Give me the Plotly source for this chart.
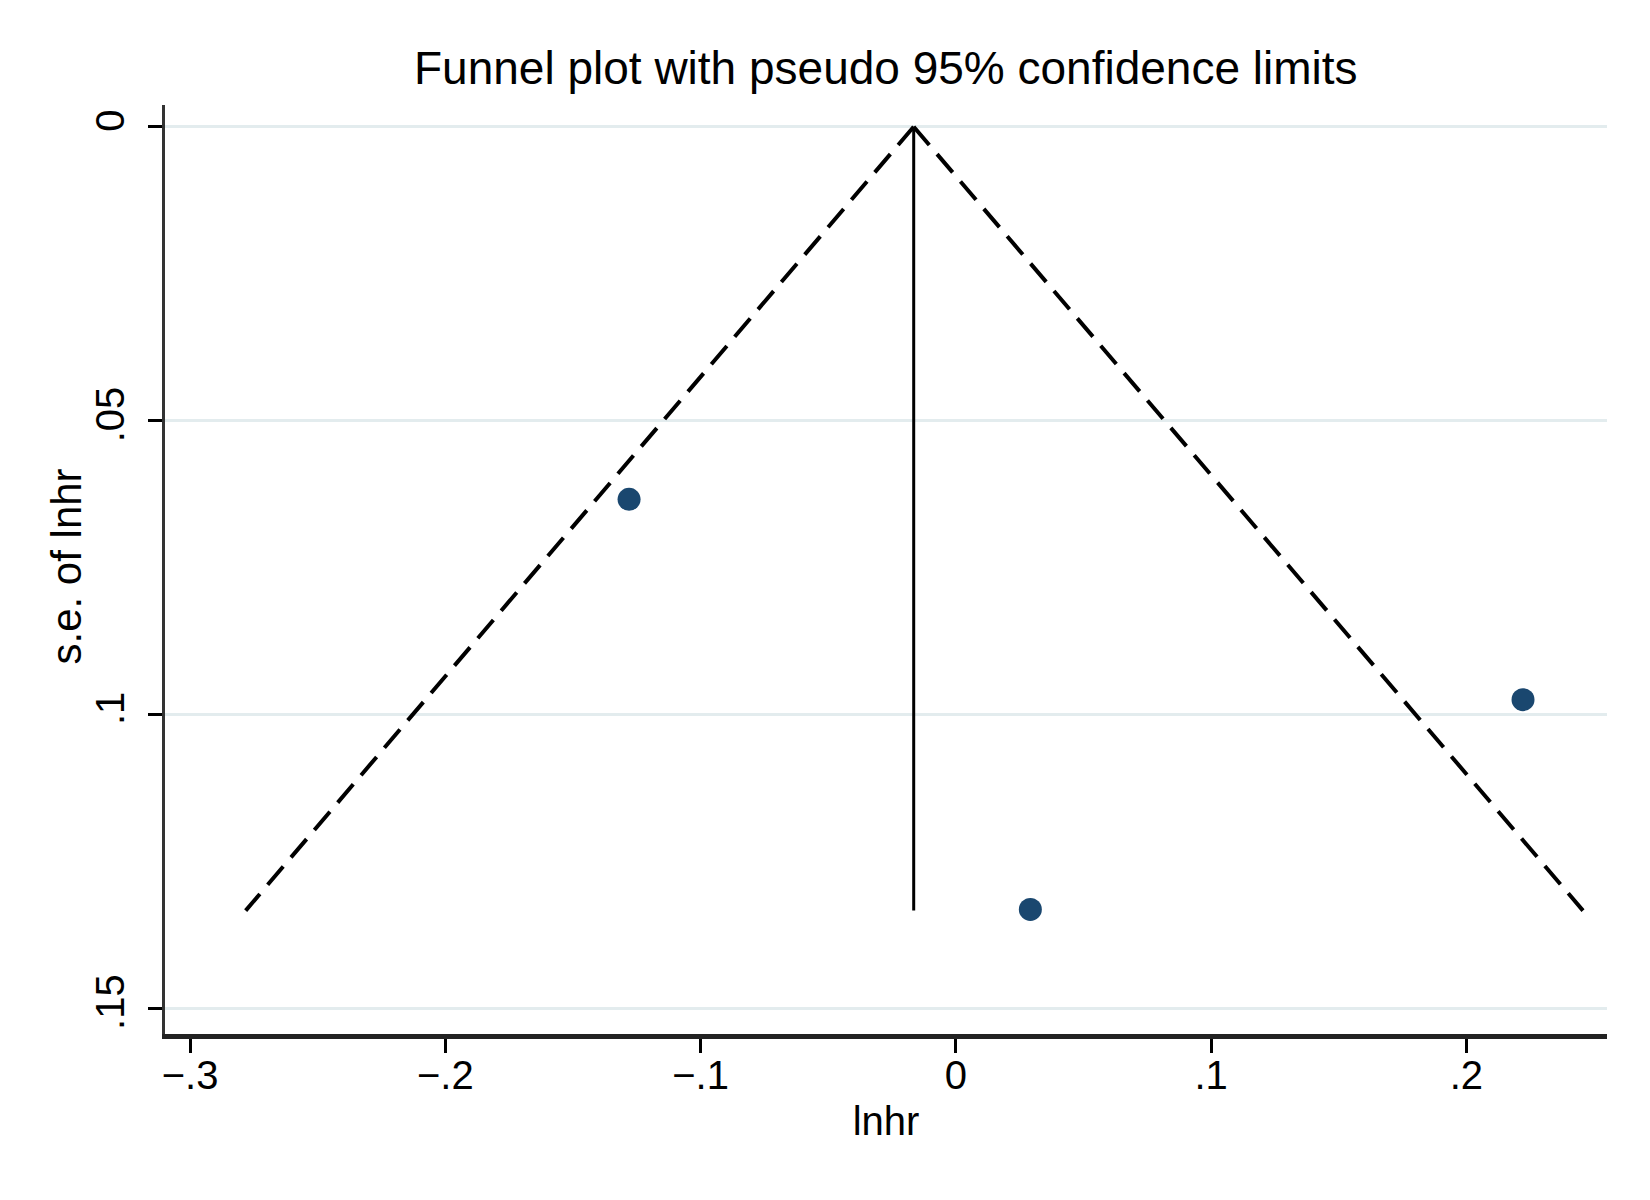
import plotly.graph_objects as go

# study estimates (log hazard ratio and its standard error)
lnhr = [-0.128, 0.0292, 0.2222]
se_lnhr = [0.0634, 0.1332, 0.0975]

# pooled estimate and pseudo 95% limits
pooled = -0.0165
se_max = 0.1334
lower_x = [-0.0165, -0.2782]
upper_x = [-0.0165, 0.2457]
limit_y = [0.0, 0.1334]

x_ticks = [-0.3, -0.2, -0.1, 0, 0.1, 0.2]
x_labels = ["\u2212.3", "\u2212.2", "\u2212.1", "0", ".1", ".2"]
y_ticks = [0, 0.05, 0.1, 0.15]
y_labels = ["0", ".05", ".1", ".15"]

fnt = "Liberation Sans, Arial, sans-serif"

fig = go.Figure()

fig.add_trace(go.Scatter(x=lower_x, y=limit_y, mode="lines",
                         line=dict(color="black", width=4, dash="24px,12px")))
fig.add_trace(go.Scatter(x=upper_x, y=limit_y, mode="lines",
                         line=dict(color="black", width=4, dash="24px,12px")))
fig.add_trace(go.Scatter(x=[pooled, pooled], y=[0, se_max], mode="lines",
                         line=dict(color="black", width=3)))
fig.add_trace(go.Scatter(x=lnhr, y=se_lnhr, mode="markers",
                         marker=dict(color="#1a476f", size=23,
                                     line=dict(width=0))))

fig.update_layout(
    width=1650, height=1200,
    paper_bgcolor="white", plot_bgcolor="white",
    showlegend=False,
    margin=dict(l=157, r=51, t=97, b=174),
    font=dict(family=fnt, color="black"),
    title=dict(text="Funnel plot with pseudo 95% confidence limits",
               x=0.532, xanchor="center", y=0.95, yanchor="middle",
               font=dict(size=46, family=fnt, color="black")),
)

# y axis title placed by hand, closer to the tick labels
fig.add_annotation(text="s.e. of lnhr", textangle=-90,
                   x=0, xref="paper", y=0.5, yref="paper",
                   xanchor="center", yanchor="middle", xshift=-99, yshift=3,
                   showarrow=False, font=dict(size=42, family=fnt, color="black"))

fig.update_xaxes(
    range=[-0.3098, 0.2551],
    tickvals=x_ticks, ticktext=x_labels,
    ticks="outside", ticklen=14, tickwidth=3, tickcolor="black",
    tickfont=dict(size=40), ticklabelstandoff=-12,
    showline=True, linecolor="#222222", linewidth=5,
    showgrid=False, zeroline=False,
    title=dict(text="lnhr", font=dict(size=40), standoff=12),
)

fig.update_yaxes(
    range=[0.1544, -0.0037],
    tickvals=y_ticks, ticktext=y_labels, tickangle=-90,
    ticks="outside", ticklen=14, tickwidth=3, tickcolor="black",
    tickfont=dict(size=40), ticklabelstandoff=8,
    showline=True, linecolor="#333333", linewidth=3,
    showgrid=True, gridcolor="#e3ecee", gridwidth=2.5,
    zeroline=False,
)

fig.write_html("out.html")
